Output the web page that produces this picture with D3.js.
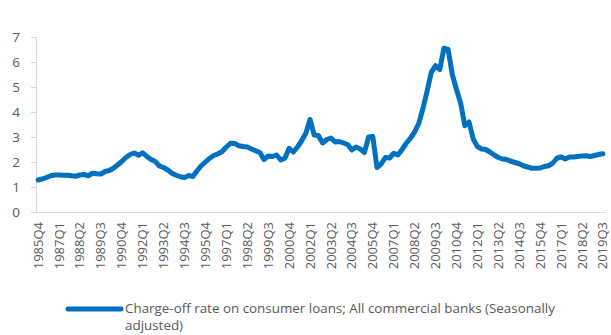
<!DOCTYPE html>
<html>
<head>
<meta charset="utf-8">
<script src="https://cdnjs.cloudflare.com/ajax/libs/d3/7.8.5/d3.min.js"></script>
<style>
  body { margin: 0; background: #fff; }
  svg { display: block; }
  text { font-family: "Open Sans", "Liberation Sans", sans-serif; fill: #595959; }
</style>
</head>
<body>
<svg id="chart" width="611" height="335"></svg>
<script>
// quarterly data, 1985Q4 .. 2019Q3
var firstYear = 1985, firstQuarter = 4;
var rates = [
  1.28, 1.32, 1.38, 1.45, 1.48, 1.48, 1.47, 1.47, 1.45, 1.43,
  1.48, 1.50, 1.45, 1.55, 1.53, 1.52, 1.62, 1.66, 1.75, 1.88,
  2.02, 2.18, 2.30, 2.36, 2.27, 2.37, 2.22, 2.10, 2.02, 1.84,
  1.78, 1.68, 1.55, 1.47, 1.41, 1.38, 1.46, 1.42, 1.65, 1.85,
  2.00, 2.15, 2.26, 2.33, 2.42, 2.60, 2.75, 2.74, 2.65, 2.62,
  2.60, 2.52, 2.45, 2.38, 2.10, 2.24, 2.22, 2.28, 2.08, 2.15,
  2.55, 2.40, 2.60, 2.85, 3.15, 3.70, 3.08, 3.06, 2.76, 2.90,
  2.96, 2.80, 2.82, 2.76, 2.70, 2.48, 2.60, 2.52, 2.38, 3.00,
  3.02, 1.78, 1.92, 2.18, 2.16, 2.35, 2.28, 2.50, 2.75, 2.95,
  3.20, 3.55, 4.15, 4.85, 5.60, 5.85, 5.70, 6.55, 6.50, 5.50,
  4.90, 4.35, 3.45, 3.60, 2.92, 2.62, 2.52, 2.50, 2.40, 2.28,
  2.18, 2.12, 2.10, 2.03, 1.98, 1.93, 1.85, 1.80, 1.75, 1.75,
  1.76, 1.82, 1.85, 1.95, 2.15, 2.20, 2.12, 2.20, 2.20, 2.22,
  2.24, 2.25, 2.22, 2.26, 2.30, 2.33
];
var yTicks = [0, 1, 2, 3, 4, 5, 6, 7];
var legendLines = ['Charge-off rate on consumer loans; All commercial banks (Seasonally', 'adjusted)'];

var quarters = rates.map(function (d, i) {
    var q = firstQuarter - 1 + i;
    return (firstYear + Math.floor(q / 4)) + 'Q' + (q % 4 + 1);
});
var data = rates.map(function (d, i) { return {q: quarters[i], v: d}; });

const svg = d3.select('#chart');
const plotLeft = 36, plotRight = 605, plotTop = 37, plotBottom = 212;

const xScale = d3.scaleBand()
    .domain(quarters)
    .range([plotLeft, plotRight])
    .padding(0);

const yScale = d3.scaleLinear()
    .domain([0, 7])
    .range([plotBottom, plotTop]);

// y axis
const yAxis = svg.append('g')
    .attr('transform', 'translate(' + plotLeft + ',0)')
    .call(d3.axisLeft(yScale).tickValues(yTicks).tickSize(5).tickPadding(11).tickFormat(d3.format('d')));
yAxis.selectAll('line, path').attr('stroke', '#d9d9d9');
yAxis.selectAll('text').style('font-size', '13.5px').attr('fill', '#595959');

// x axis
const xAxis = svg.append('g')
    .attr('transform', 'translate(0,' + plotBottom + ')')
    .call(d3.axisBottom(xScale)
        .tickValues(quarters.filter(function (d, i) { return i % 5 === 0; }))
        .tickSize(0).tickPadding(0).tickSizeOuter(0));
xAxis.select('path').attr('stroke', '#d9d9d9');
xAxis.selectAll('text')
    .style('font-size', '13px')
    .attr('fill', '#595959')
    .attr('text-anchor', 'end')
    .attr('transform', 'translate(0,10) rotate(-90)')
    .attr('x', 0)
    .attr('y', 0)
    .attr('dy', '0.35em');

// the line
const line = d3.line()
    .x(function (d) { return xScale(d.q) + xScale.bandwidth() / 2; })
    .y(function (d) { return yScale(d.v); });

svg.append('path')
    .datum(data)
    .attr('d', line)
    .attr('fill', 'none')
    .attr('stroke', '#0070c0')
    .attr('stroke-width', 5)
    .attr('stroke-linejoin', 'round')
    .attr('stroke-linecap', 'round');

// legend
const legend = svg.append('g');
legend.append('line')
    .attr('x1', 68).attr('x2', 121)
    .attr('y1', 309).attr('y2', 309)
    .attr('stroke', '#0070c0')
    .attr('stroke-width', 5)
    .attr('stroke-linecap', 'round');
legend.selectAll('text')
    .data(legendLines)
    .enter().append('text')
    .attr('x', 125)
    .attr('y', function (d, i) { return 308 + i * 17; })
    .attr('dy', '0.35em')
    .style('font-size', '13.4px')
    .text(function (d) { return d; });
</script>
</body>
</html>
